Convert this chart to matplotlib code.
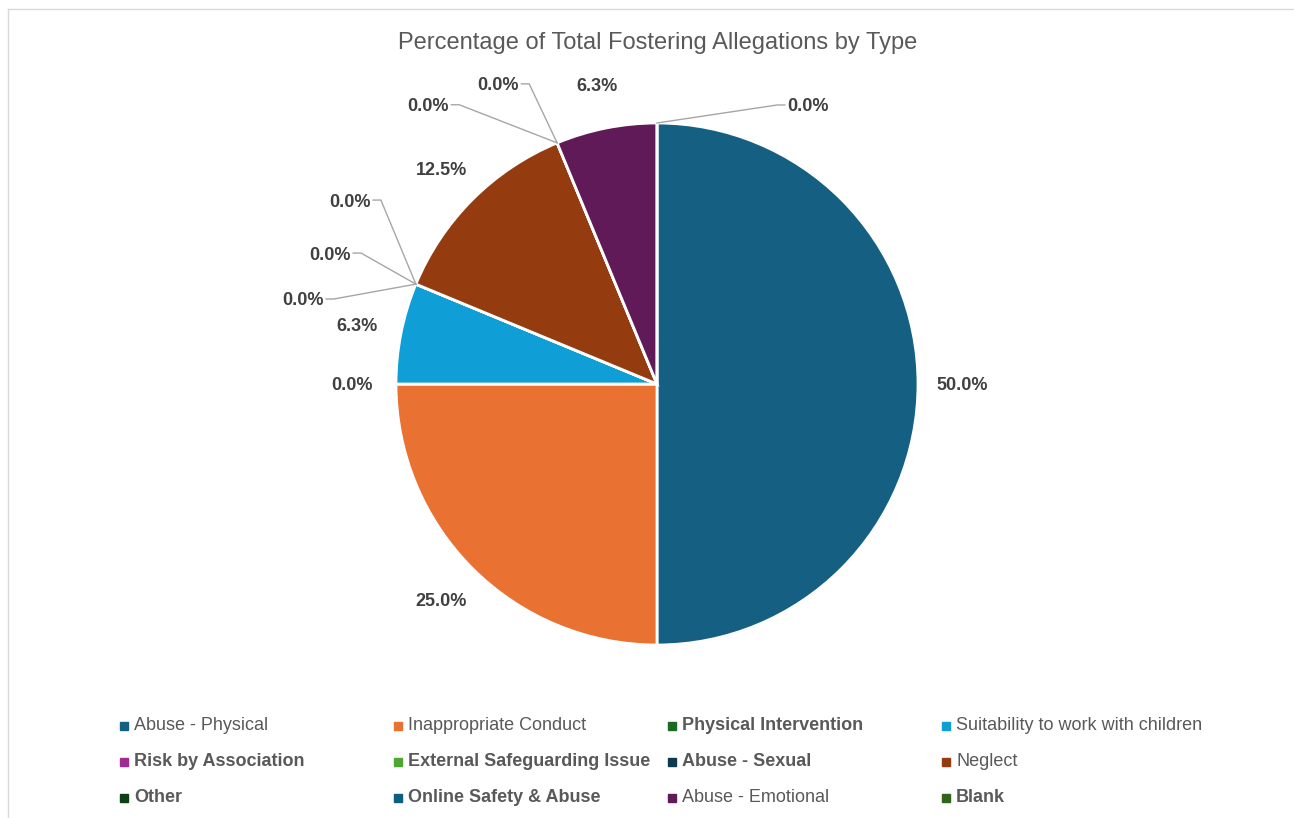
from decimal import Decimal, ROUND_HALF_UP

import numpy as np
import matplotlib
matplotlib.use("Agg")
import matplotlib.pyplot as plt
from matplotlib.patches import Rectangle
from matplotlib.lines import Line2D

# data
categories = [
    "Abuse - Physical", "Inappropriate Conduct", "Physical Intervention",
    "Suitability to work with children", "Risk by Association",
    "External Safeguarding Issue", "Abuse - Sexual", "Neglect", "Other",
    "Online Safety & Abuse", "Abuse - Emotional", "Blank",
]
counts = [8, 4, 0, 1, 0, 0, 0, 2, 0, 0, 1, 0]
colors = [
    "#156082", "#E97132", "#196B24", "#0F9ED5", "#A02B93", "#4EA72E",
    "#0D3A4E", "#943C10", "#0E4015", "#0A5F80", "#601A57", "#2F6419",
]
title = "Percentage of Total Fostering Allegations by Type"

# elbow of the leader line for the 0.0% labels (offset from wedge edge, radius units)
zero_offsets = {
    4: (-0.314, -0.057),
    5: (-0.21, 0.119),
    6: (-0.134, 0.322),
    8: (-0.375, 0.146),
    9: (-0.107, 0.226),
    11: (0.46, 0.069),
}


def pct_label(v):
    # excel style rounding (6.25 -> 6.3)
    return f"{Decimal(str(v)).quantize(Decimal('0.1'), rounding=ROUND_HALF_UP)}%"


plt.rcParams["font.family"] = ["Liberation Sans Narrow", "Liberation Sans", "DejaVu Sans"]

W, H = 1294, 818
fig = plt.figure(figsize=(W / 100, H / 100), dpi=100)

cx, cy, r = 657, 384, 261
ax = fig.add_axes([(cx - r) / W, (H - cy - r) / H, 2 * r / W, 2 * r / H])
total = sum(counts)
pct = [100 * c / total for c in counts]

wedges, _ = ax.pie(
    counts, colors=colors, startangle=90, counterclock=False, radius=1,
    wedgeprops=dict(edgecolor="white", linewidth=2),
)
ax.set_xlim(-1, 1)
ax.set_ylim(-1, 1)
ax.set_aspect("equal")
ax.axis("off")

lbl_kw = dict(fontsize=13, fontweight="bold", color="#404040", clip_on=False)
for i, (w, p) in enumerate(zip(wedges, pct)):
    mid = np.deg2rad((w.theta1 + w.theta2) / 2)
    if i not in zero_offsets:
        d = 1.17
        ax.text(d * np.cos(mid), d * np.sin(mid), pct_label(p), ha="center",
                va="center_baseline", **lbl_kw)
        continue
    x0, y0 = np.cos(mid), np.sin(mid)
    dx, dy = zero_offsets[i]
    ex, ey = x0 + dx, y0 + dy
    side = -1 if dx < 0 else 1
    ax.plot([x0, ex, ex + side * 0.03], [y0, ey, ey], color="#A6A6A6", lw=1, clip_on=False)
    ax.text(ex + side * 0.04, ey, pct_label(p), ha="left" if side > 0 else "right",
            va="center_baseline", **lbl_kw)

fig.text(658 / W, 1 - 43 / H, title, ha="center", va="center", fontsize=17, color="#595959")

# legend, 4 columns
for i, (name, col) in enumerate(zip(categories, colors)):
    row, c = divmod(i, 4)
    x = 120 + c * 274
    y = 726 + row * 36
    fig.add_artist(Rectangle((x / W, 1 - (y + 4) / H), 8 / W, 8 / H,
                             transform=fig.transFigure, color=col))
    fig.text((x + 14) / W, 1 - y / H, name, ha="left", va="center", fontsize=13,
             color="#595959", fontweight="bold" if counts[i] == 0 else "normal")

# chart frame edges
fig.add_artist(Line2D([8 / W, 8 / W], [0, 1 - 9 / H], transform=fig.transFigure, color="#D9D9D9", lw=1))
fig.add_artist(Line2D([8 / W, 1], [1 - 9 / H, 1 - 9 / H], transform=fig.transFigure, color="#D9D9D9", lw=1))

fig.savefig("out.png", dpi=100)
